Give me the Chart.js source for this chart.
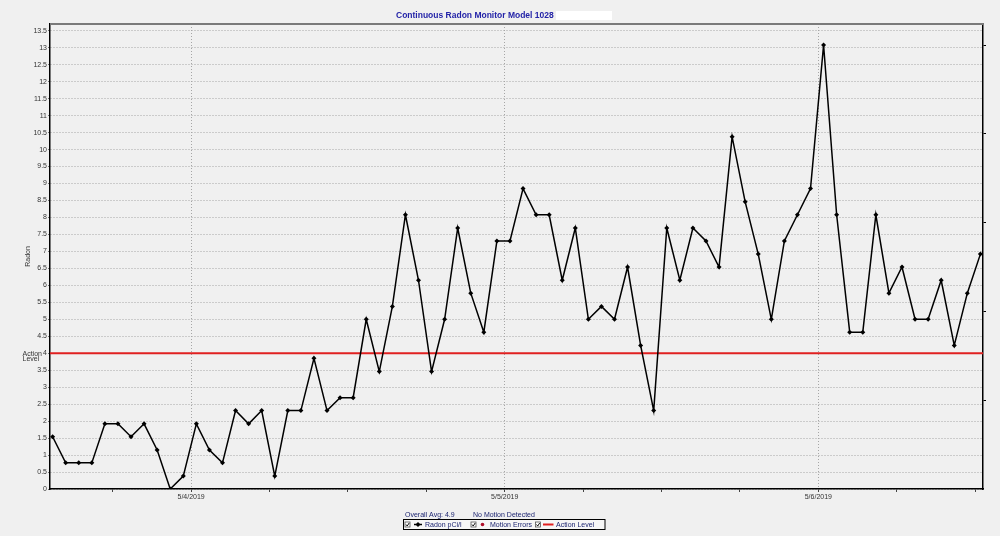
<!DOCTYPE html>
<html>
<head>
<meta charset="utf-8">
<script src="https://cdn.jsdelivr.net/npm/chart.js@4.4.1/dist/chart.umd.min.js"></script>
<style>
    html, body { margin: 0; padding: 0; background: #f0f0f0; }
    #wrap { width: 1000px; height: 536px; position: relative; }
</style>
</head>
<body>
<div id="wrap"><canvas id="radonChart"></canvas></div>
<script>
// hourly readings (pCi/l), first one on 5/3/2019 early afternoon
const radon = [
    1.54, 0.77, 0.77, 0.77, 1.92, 1.92, 1.54, 1.92, 1.15, 0.00,
    0.38, 1.92, 1.15, 0.77, 2.31, 1.92, 2.31, 0.38, 2.31, 2.31,
    3.85, 2.31, 2.69, 2.69, 5.00, 3.46, 5.38, 8.08, 6.15, 3.46,
    5.00, 7.69, 5.77, 4.62, 7.31, 7.31, 8.85, 8.08, 8.08, 6.15,
    7.69, 5.00, 5.38, 5.00, 6.54, 4.23, 2.31, 7.69, 6.15, 7.69,
    7.31, 6.54, 10.38, 8.46, 6.92, 5.00, 7.31, 8.08, 8.85, 13.08,
    8.08, 4.62, 4.62, 8.08, 5.77, 6.54, 5.00, 5.00, 6.15, 4.23,
    5.77, 6.92,
];
const motionErrors = [];
const dayLabels = ["5/4/2019", "5/5/2019", "5/6/2019"];
const dayStarts = [10.6, 34.6, 58.6]; // hours after the first reading
const actionLevel = 4;
const rightTicks = [2.62, 5.23, 7.85, 10.46, 13.08];
const overallAvg = "4.9";
const motionStatus = "No Motion Detected";

const xMin = -0.2;
const xMax = 71.2;
const FONT = '"Liberation Sans", Arial, sans-serif';
const tickFont = { size: 7, family: FONT };
const gridGray = "#a6a6a6";

function checkbox(ctx, x, y) {
    ctx.fillStyle = "#ffffff";
    ctx.fillRect(x, y, 5, 5);
    ctx.strokeStyle = "#555";
    ctx.lineWidth = 0.8;
    ctx.strokeRect(x, y, 5, 5);
    ctx.strokeStyle = "#111";
    ctx.lineWidth = 1;
    ctx.beginPath();
    ctx.moveTo(x + 1, y + 2.5);
    ctx.lineTo(x + 2.2, y + 4);
    ctx.lineTo(x + 4.2, y + 1);
    ctx.stroke();
}

// title, frame, action-level label and the legend box under the chart
const extras = {
    id: "extras",
    afterDraw(chart) {
        const ctx = chart.ctx;
        const area = chart.chartArea;
        const yScale = chart.scales.y;
        const sets = chart.data.datasets;
        ctx.save();

        ctx.strokeStyle = "#7a7a7a";
        ctx.lineWidth = 2;
        ctx.beginPath();
        ctx.moveTo(area.left, area.top);
        ctx.lineTo(area.right, area.top);
        ctx.stroke();

        ctx.font = "bold 8.5px " + FONT;
        ctx.fillStyle = "#2424a8";
        ctx.textAlign = "left";
        ctx.textBaseline = "middle";
        ctx.fillText("Continuous Radon Monitor Model 1028", 396, 15.5);
        ctx.fillStyle = "#ffffff";
        ctx.fillRect(556, 11, 56, 9);

        ctx.font = "7px " + FONT;
        ctx.fillStyle = "#333";
        ctx.textBaseline = "alphabetic";
        const ay = yScale.getPixelForValue(actionLevel);
        ctx.fillText("Action", 22.5, ay + 2.5);
        ctx.fillText("Level", 22.5, ay + 8);

        // legend
        ctx.textBaseline = "middle";
        ctx.fillStyle = "#1c2470";
        ctx.fillText("Overall Avg: " + overallAvg, 405, 515.5);
        ctx.fillText(motionStatus, 473, 515.5);

        ctx.fillStyle = "#f6f6f6";
        ctx.fillRect(403.5, 519.5, 201.5, 10);
        ctx.strokeStyle = "#000";
        ctx.lineWidth = 1;
        ctx.strokeRect(403.5, 519.5, 201.5, 10);

        checkbox(ctx, 405, 522);
        ctx.strokeStyle = "#000";
        ctx.lineWidth = 1.5;
        ctx.beginPath();
        ctx.moveTo(414, 524.5);
        ctx.lineTo(422, 524.5);
        ctx.stroke();
        ctx.fillStyle = "#000";
        ctx.beginPath();
        ctx.moveTo(418, 522);
        ctx.lineTo(420.5, 524.5);
        ctx.lineTo(418, 527);
        ctx.lineTo(415.5, 524.5);
        ctx.fill();
        ctx.fillStyle = "#1c2470";
        ctx.fillText(sets[0].label, 425, 525);

        checkbox(ctx, 471, 522);
        ctx.fillStyle = "#b0102a";
        ctx.beginPath();
        ctx.arc(482.5, 524.5, 1.8, 0, Math.PI * 2);
        ctx.fill();
        ctx.fillStyle = "#1c2470";
        ctx.fillText(sets[1].label, 490, 525);

        checkbox(ctx, 535.5, 522);
        ctx.strokeStyle = "#e02020";
        ctx.lineWidth = 2;
        ctx.beginPath();
        ctx.moveTo(543, 524.5);
        ctx.lineTo(553.5, 524.5);
        ctx.stroke();
        ctx.fillStyle = "#1c2470";
        ctx.fillText(sets[2].label, 556, 525);

        ctx.restore();
    },
};

new Chart(document.getElementById("radonChart"), {
    type: "line",
    data: {
        datasets: [
            {
                label: "Radon pCi/l",
                data: radon.map((v, i) => ({ x: i, y: v })),
                borderColor: "#000",
                backgroundColor: "#000",
                borderWidth: 1.5,
                pointStyle: "rectRot",
                pointRadius: 2.5,
                pointBorderWidth: 0,
                tension: 0,
            },
            {
                label: "Motion Errors",
                data: motionErrors,
                borderColor: "#b0102a",
                backgroundColor: "#b0102a",
                showLine: false,
            },
            {
                label: "Action Level",
                data: [
                    { x: xMin, y: actionLevel },
                    { x: xMax, y: actionLevel },
                ],
                borderColor: "#e02020",
                borderWidth: 2,
                pointRadius: 0,
            },
        ],
    },
    options: {
        responsive: true,
        maintainAspectRatio: false,
        animation: false,
        layout: { padding: { top: 24, left: 0, right: 0, bottom: 0 } },
        plugins: {
            legend: { display: false },
            tooltip: { enabled: false },
        },
        scales: {
            x: {
                type: "linear",
                min: xMin,
                max: xMax,
                afterFit: (s) => {
                    s.height = 47;
                },
                afterBuildTicks: (s) => {
                    const ticks = [];
                    for (let t = dayStarts[0] - 6; t <= xMax; t += 6) {
                        const day = dayStarts.findIndex((d) => Math.abs(d - t) < 0.01);
                        ticks.push({ value: t, day: day });
                    }
                    s.ticks = ticks;
                },
                ticks: {
                    autoSkip: false,
                    maxRotation: 0,
                    padding: 1,
                    font: tickFont,
                    color: "#333",
                    callback: (v, i, ticks) => (ticks[i].day >= 0 ? dayLabels[ticks[i].day] : ""),
                },
                grid: {
                    color: (ctx) => (ctx.tick && ctx.tick.day >= 0 ? gridGray : "rgba(0,0,0,0)"),
                    tickColor: "#444",
                    tickLength: 3,
                    tickBorderDash: [],
                },
                border: { color: "#000", width: 1.5, dash: [1, 2] },
            },
            y: {
                min: 0,
                max: 13.7,
                afterFit: (s) => {
                    s.width = 50;
                },
                ticks: {
                    stepSize: 0.5,
                    includeBounds: false,
                    autoSkip: false,
                    padding: 1,
                    font: tickFont,
                    color: "#333",
                    callback: (v) => String(Math.round(v * 10) / 10),
                },
                grid: {
                    color: gridGray,
                    tickColor: "#777",
                    tickLength: 2,
                    tickBorderDash: [],
                },
                border: { color: "#000", width: 1.5, dash: [1, 2] },
                title: {
                    display: true,
                    text: "Radon",
                    font: tickFont,
                    color: "#333",
                    padding: { top: 24, bottom: 0 },
                },
            },
            y2: {
                position: "right",
                min: 0,
                max: 13.7,
                afterBuildTicks: (s) => {
                    s.ticks = rightTicks.map((v) => ({ value: v }));
                },
                afterFit: (s) => {
                    s.width = 17;
                },
                ticks: { display: false },
                grid: {
                    drawOnChartArea: false,
                    tickLength: 3,
                    tickColor: "#000",
                },
                border: { color: "#000", width: 1.5 },
            },
        },
    },
    plugins: [extras],
});
</script>
</body>
</html>
